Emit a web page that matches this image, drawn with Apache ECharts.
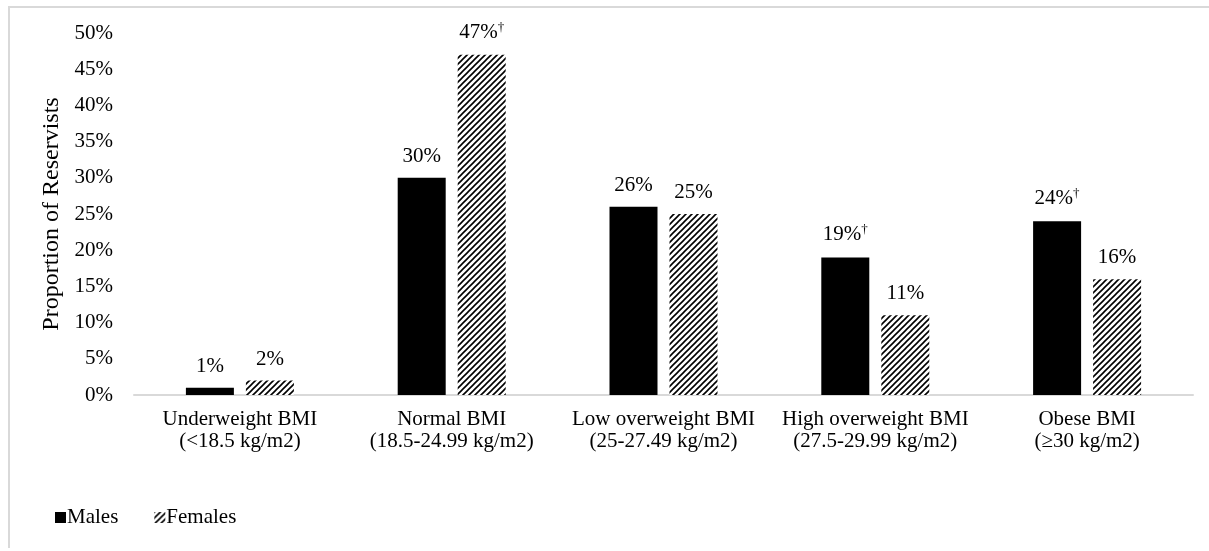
<!DOCTYPE html>
<html>
<head>
<meta charset="utf-8">
<script src="https://cdn.jsdelivr.net/npm/echarts@6/dist/echarts.min.js"></script>
<style>
html,body{margin:0;padding:0;background:#fff;}
#frame{position:absolute;left:8px;top:6px;width:1210px;height:542px;border-left:2px solid #d9d9d9;border-top:2px solid #d9d9d9;box-sizing:border-box;}
#chart{position:absolute;left:0;top:0;width:1209px;height:551px;}
</style>
</head>
<body>
<div id="frame"></div>
<div id="chart"></div>
<script>
const categories = [
  'Underweight BMI\n(<18.5 kg/m2)',
  'Normal BMI\n(18.5-24.99 kg/m2)',
  'Low overweight BMI\n(25-27.49 kg/m2)',
  'High overweight BMI\n(27.5-29.99 kg/m2)',
  'Obese BMI\n(≥30 kg/m2)'
];
const males = [1, 30, 26, 19, 24];
const females = [2, 47, 25, 11, 16];
const malesDagger = [false, false, false, true, true];
const femalesDagger = [false, true, false, false, false];
const yTicks = [0, 5, 10, 15, 20, 25, 30, 35, 40, 45, 50];

const FONT = '"Liberation Serif", "Times New Roman", serif';
const FS = 21;

function hatch() {
  const c = document.createElement('canvas');
  c.width = 6; c.height = 6;
  const g = c.getContext('2d');
  g.fillStyle = '#fff';
  g.fillRect(0, 0, 6, 6);
  g.strokeStyle = '#000';
  g.lineWidth = 1.6;
  g.beginPath();
  g.moveTo(-1, 7); g.lineTo(7, -1);
  g.moveTo(-4, 4); g.lineTo(4, -4);
  g.moveTo(2, 10); g.lineTo(10, 2);
  g.stroke();
  return c;
}
const hatchImg = hatch();

function labelFmt(daggers) {
  return function (p) {
    return p.value + '%' + (daggers[p.dataIndex] ? '{s|†}' : '');
  };
}
const labelStyle = {
  show: true, position: 'top', distance: 11,
  fontFamily: FONT, fontSize: FS, color: '#000',
  rich: { s: { fontFamily: FONT, fontSize: 13, color: '#000', verticalAlign: 'top', padding: [0, 0, 10, 0] } }
};

const chart = echarts.init(document.getElementById('chart'), null, { renderer: 'canvas' });
chart.setOption({
  animation: false,
  backgroundColor: 'transparent',
  textStyle: { fontFamily: FONT },
  grid: { left: 134, right: 16, top: 33, bottom: 156, containLabel: false },
  legend: {
    left: 50, top: 502,
    itemWidth: 11, itemHeight: 11, itemGap: 36,
    textStyle: { fontFamily: FONT, fontSize: FS, color: '#000', padding: [0, 0, 0, -4] },
    data: [
      { name: 'Males', icon: 'rect' },
      { name: 'Females', icon: 'rect' }
    ]
  },
  xAxis: {
    type: 'category',
    data: categories,
    axisLine: { lineStyle: { color: '#d9d9d9', width: 2 } },
    axisTick: { show: false },
    axisLabel: { fontFamily: FONT, fontSize: FS, color: '#000', margin: 13, lineHeight: 22, interval: 0 }
  },
  yAxis: {
    type: 'value',
    min: 0, max: 50, interval: 5,
    name: 'Proportion of Reservists',
    nameLocation: 'middle',
    nameGap: 63,
    nameTextStyle: { fontFamily: FONT, fontSize: 24, color: '#000' },
    axisLine: { show: false },
    axisTick: { show: false },
    splitLine: { show: false },
    axisLabel: {
      fontFamily: FONT, fontSize: FS, color: '#000', margin: 21,
      formatter: function (v) { return yTicks.indexOf(v) >= 0 ? v + '%' : ''; }
    }
  },
  series: [
    {
      name: 'Males', type: 'bar', data: males,
      barWidth: 48, barGap: '25%',
      itemStyle: { color: '#000' },
      label: Object.assign({}, labelStyle, { formatter: labelFmt(malesDagger) })
    },
    {
      name: 'Females', type: 'bar', data: females,
      barWidth: 48,
      itemStyle: { color: { image: hatchImg, repeat: 'repeat' } },
      label: Object.assign({}, labelStyle, { formatter: labelFmt(femalesDagger) })
    }
  ]
});
</script>
</body>
</html>
